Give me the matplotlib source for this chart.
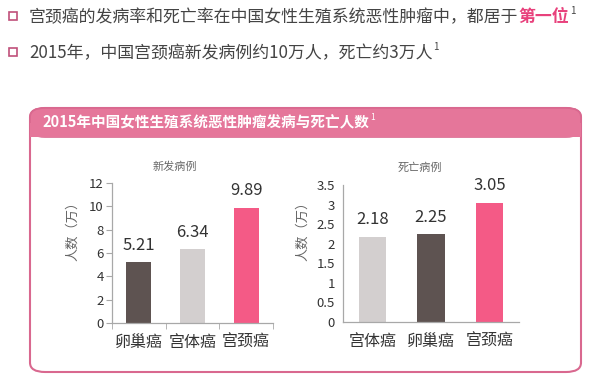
import matplotlib
matplotlib.use("Agg")
import matplotlib.pyplot as plt
from matplotlib.patches import FancyBboxPatch, Rectangle

plt.rcParams['font.family'] = ['Noto Sans CJK SC', 'DejaVu Sans']

# data
new_cats = ['卵巢癌', '宫体癌', '宫颈癌']
new_vals = [5.21, 6.34, 9.89]
death_cats = ['宫体癌', '卵巢癌', '宫颈癌']
death_vals = [2.18, 2.25, 3.05]

cat_colors = {'卵巢癌': '#5e5351', '宫体癌': '#d3cfcf', '宫颈癌': '#f45a86'}

line1 = '宫颈癌的发病率和死亡率在中国女性生殖系统恶性肿瘤中，都居于'
line1_em = '第一位'
line2 = '2015年，中国宫颈癌新发病例约10万人，死亡约3万人'
panel_title = '2015年中国女性生殖系统恶性肿瘤发病与死亡人数'

W, H = 600, 375
fig = plt.figure(figsize=(6, 3.75), dpi=100)
fig.patch.set_facecolor('white')


def fx(px):
    return px / W


def fy(py):
    return 1 - py / H


pink = '#e5769a'
text_col = '#444444'

# panel box
panel = FancyBboxPatch((fx(30), fy(372)), fx(581 - 30), (372 - 108) / H,
                       boxstyle='round,pad=0,rounding_size=0.025',
                       transform=fig.transFigure, facecolor='white',
                       edgecolor='#d9688f', linewidth=1.5, zorder=-3)
fig.patches.append(panel)
header = FancyBboxPatch((fx(30), fy(137)), fx(581 - 30), (137 - 108) / H,
                        boxstyle='round,pad=0,rounding_size=0.025',
                        transform=fig.transFigure, facecolor=pink,
                        edgecolor='#d9688f', linewidth=1.2, zorder=-2)
fig.patches.append(header)
fig.patches.append(Rectangle((fx(30), fy(137)), fx(581 - 30), 14 / H,
                             transform=fig.transFigure, facecolor=pink,
                             edgecolor='none', zorder=-1))

# bullets
for yb in (16, 52):
    fig.patches.append(Rectangle((fx(9), fy(yb + 4)), fx(8), 8 / H,
                                 transform=fig.transFigure, facecolor='white',
                                 edgecolor='#c0507a', linewidth=1.2))

fig.canvas.draw()
renderer = fig.canvas.get_renderer()

fs_top = 12.2
t1 = fig.text(fx(29), fy(22), line1, fontsize=fs_top, color=text_col,
              ha='left', va='baseline')
bb = t1.get_window_extent(renderer)
t1b = fig.text(fx(bb.x1), fy(22), line1_em, fontsize=fs_top, color='#e8417c',
               fontweight='bold', ha='left', va='baseline')
bb = t1b.get_window_extent(renderer)
fig.text(fx(bb.x1 + 1), fy(14), '1', fontsize=7, color=text_col, ha='left', va='baseline')

t2 = fig.text(fx(29), fy(58), line2, fontsize=fs_top, color=text_col, ha='left', va='baseline')
bb = t2.get_window_extent(renderer)
fig.text(fx(bb.x1 + 1), fy(50), '1', fontsize=7, color=text_col, ha='left', va='baseline')

th = fig.text(fx(42), fy(127), panel_title, fontsize=10.5, color='white',
              fontweight='bold', ha='left', va='baseline', zorder=5)
bb = th.get_window_extent(renderer)
fig.text(fx(bb.x1 + 1), fy(120), '1', fontsize=6, color='white', ha='left',
         va='baseline', zorder=5)


def bar_chart(rect, cats, vals, ymax, ystep, title, title_xy, ylab_x, ticks_on):
    ax = fig.add_axes(rect)
    ax.set_zorder(3)
    ax.patch.set_alpha(0)
    colors = [cat_colors[c] for c in cats]
    xs = range(len(cats))
    bars = ax.bar(xs, vals, width=0.47, color=colors)
    ax.set_xlim(-0.5, len(cats) - 0.5)
    ax.set_ylim(0, ymax)
    n = int(round(ymax / ystep))
    ticks = [i * ystep for i in range(n + 1)]
    ax.set_yticks(ticks)
    ax.set_yticklabels([f'{v:g}' for v in ticks], fontsize=9.5, color='#333333')
    ax.set_xticks(list(xs))
    ax.set_xticklabels(cats, fontsize=11.5, color='#333333')
    for s in ('top', 'right'):
        ax.spines[s].set_visible(False)
    for s in ('left', 'bottom'):
        ax.spines[s].set_color('#a8a8a8')
        ax.spines[s].set_linewidth(0.9)
    ax.tick_params(axis='x', length=0, pad=8)
    if ticks_on:
        ax.tick_params(axis='y', length=4, color='#a8a8a8', pad=2)
        ax.set_xticks([0.5 + i for i in range(-1, len(cats))], minor=True)
        ax.tick_params(axis='x', which='minor', length=4, color='#a8a8a8')
    else:
        ax.tick_params(axis='y', length=0, pad=6)
    for b, v in zip(bars, vals):
        ax.annotate(f'{v:.2f}', (b.get_x() + b.get_width() / 2, v),
                    xytext=(0, 6), textcoords='offset points',
                    ha='center', va='bottom', fontsize=12, color='#333333')
    fig.text(fx(title_xy[0]), fy(title_xy[1]), title, fontsize=8,
             color='#666666', ha='center', va='center')
    fig.text(fx(ylab_x), fy(228), '人数（万）', fontsize=9.5, color='#666666',
             rotation=90, ha='center', va='center')
    return ax


bar_chart([fx(112), fy(323), fx(273 - 112), (323 - 183) / H],
          new_cats, new_vals, 12, 2, '新发病例', (175, 167), 73, True)
bar_chart([fx(343), fy(322), fx(519 - 343), (322 - 185) / H],
          death_cats, death_vals, 3.5, 0.5, '死亡病例', (420, 168), 303, False)

fig.savefig('out.png', dpi=100)
